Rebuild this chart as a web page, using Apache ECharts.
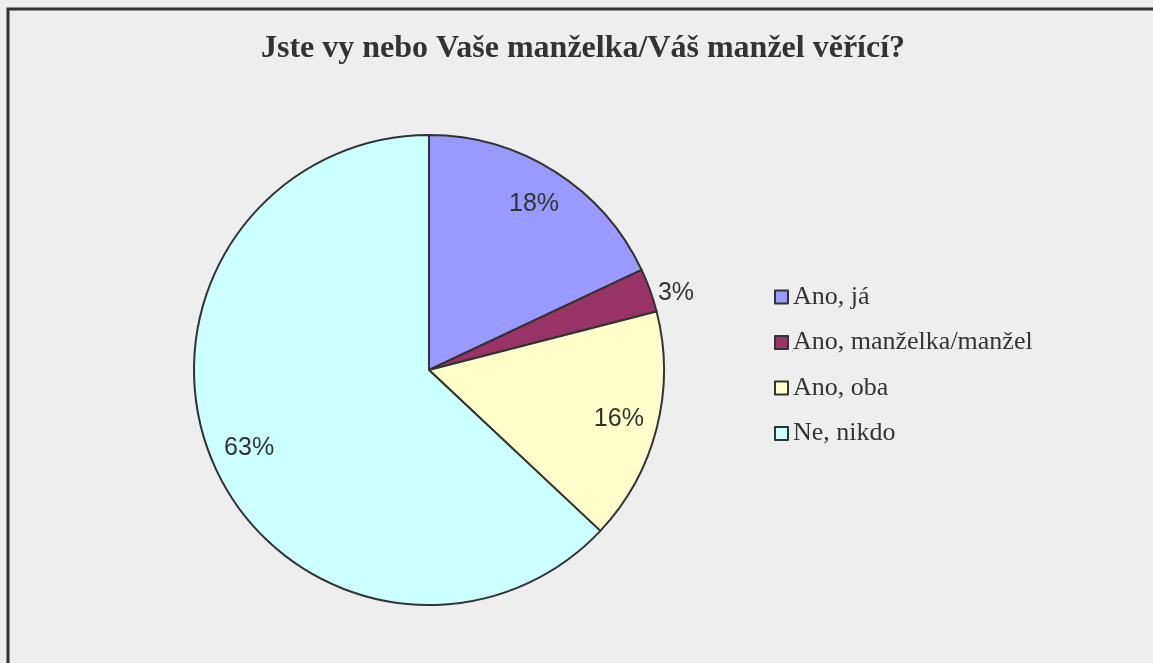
<!DOCTYPE html>
<html>
<head>
<meta charset="utf-8">
<script src="https://cdn.jsdelivr.net/npm/echarts@6/dist/echarts.min.js"></script>
<style>
* { margin: 0; padding: 0; }
#chart-container { width: 1153px; height: 663px; }
</style>
</head>
<body>
<div id="chart-container"></div>
<script>
// data
const categories = ['Ano, já', 'Ano, manželka/manžel', 'Ano, oba', 'Ne, nikdo'];
const values = [18, 3, 16, 63];
const colors = ['#9999FF', '#993366', '#FFFFCC', '#CCFFFF'];
const titleText = 'Jste vy nebo Vaše manželka/Váš manžel věřící?';

const dom = document.getElementById('chart-container');
const myChart = echarts.init(dom, null, { renderer: 'canvas' });

// main pie, only the small slice gets an outside label
const pieData = categories.map((name, i) => ({
    name: name,
    value: values[i],
    itemStyle: { color: colors[i] },
    label: values[i] < 5 ? { show: true } : { show: false }
}));

// transparent ring used just to place the inner labels further out
const labelData = categories.map((name, i) => ({
    name: name,
    value: values[i],
    label: { show: values[i] >= 5 }
}));

const option = {
    backgroundColor: '#EEEEEE',
    animation: false,
    color: colors,
    title: {
        text: titleText,
        left: 261,
        top: 33,
        padding: 0,
        textStyle: {
            fontFamily: 'Liberation Serif',
            fontWeight: 'bold',
            fontSize: 32,
            color: '#333'
        }
    },
    legend: {
        orient: 'vertical',
        left: 774,
        top: 284,
        padding: 0,
        itemWidth: 13,
        itemHeight: 13,
        itemGap: 19.5,
        icon: 'rect',
        data: categories,
        itemStyle: { borderColor: '#333', borderWidth: 2 },
        textStyle: {
            fontFamily: 'Liberation Serif',
            fontSize: 26,
            color: '#333',
            lineHeight: 26
        }
    },
    graphic: [{
        type: 'rect',
        silent: true,
        shape: { x: 8, y: 9, width: 1300, height: 800 },
        style: { fill: 'none', stroke: '#333', lineWidth: 3 }
    }],
    series: [
        {
            type: 'pie',
            center: [429, 370],
            radius: [0, 235],
            startAngle: 90,
            clockwise: true,
            data: pieData,
            itemStyle: { borderColor: '#333', borderWidth: 2 },
            label: {
                position: 'outside',
                formatter: '{c}%',
                fontFamily: 'Liberation Sans',
                fontSize: 25,
                color: '#333',
                offset: [0, 4]
            },
            labelLine: { show: false, length: 3, length2: 0 }
        },
        {
            type: 'pie',
            silent: true,
            center: [429, 370],
            radius: [151, 235],
            startAngle: 90,
            clockwise: true,
            data: labelData,
            itemStyle: { color: 'transparent', borderWidth: 0 },
            label: {
                position: 'inside',
                formatter: '{c}%',
                fontFamily: 'Liberation Sans',
                fontSize: 25,
                color: '#333'
            },
            labelLine: { show: false },
            legendHoverLink: false
        }
    ]
};

myChart.setOption(option);
window.addEventListener('resize', () => myChart.resize());
</script>
</body>
</html>
